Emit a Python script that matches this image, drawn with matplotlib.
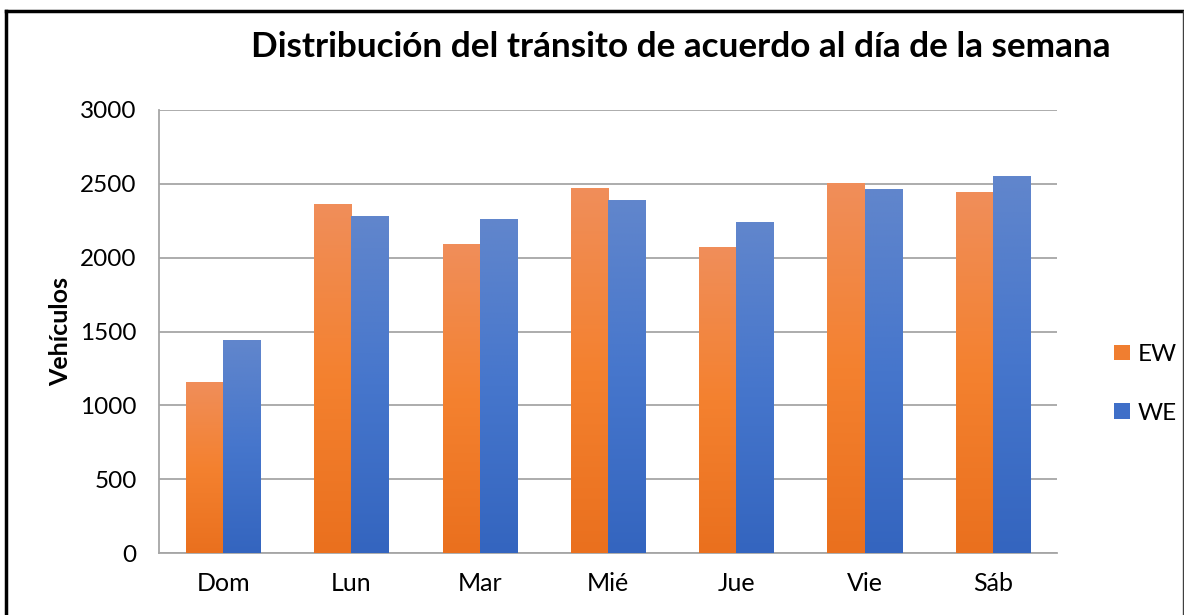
import numpy as np
import matplotlib
matplotlib.use("Agg")
import matplotlib.pyplot as plt
from matplotlib.patches import Patch
from matplotlib.lines import Line2D
from matplotlib.colors import LinearSegmentedColormap

days = ["Dom", "Lun", "Mar", "Mié", "Jue", "Vie", "Sáb"]
ew = [1155, 2360, 2090, 2470, 2070, 2500, 2440]
we = [1440, 2280, 2260, 2390, 2240, 2460, 2550]
series_names = ["EW", "WE"]
yticks = [0, 500, 1000, 1500, 2000, 2500, 3000]

FONT = ["Lato", "DejaVu Sans"]
plt.rcParams["font.family"] = FONT

W, H = 1184, 615
fig = plt.figure(figsize=(W / 100, H / 100), dpi=100)
ax = fig.add_axes([159 / W, 62 / H, 898 / W, 443 / H])

x = np.arange(len(days))
bw = 0.29
orange_cmap = LinearSegmentedColormap.from_list("o", ["#EA701E", "#F4812F", "#F08E5A"])
blue_cmap = LinearSegmentedColormap.from_list("b", ["#3465BF", "#4676CC", "#6186CC"])

bars_ew = ax.bar(x - bw / 2, ew, bw, color="none", edgecolor="none", zorder=3)
bars_we = ax.bar(x + bw / 2, we, bw, color="none", edgecolor="none", zorder=3)

grad = np.linspace(0, 1, 256).reshape(-1, 1)
for bars, cmap in ((bars_ew, orange_cmap), (bars_we, blue_cmap)):
    for r in bars:
        x0, y0 = r.get_x(), r.get_y()
        w, h = r.get_width(), r.get_height()
        ax.imshow(grad, cmap=cmap, origin="lower", aspect="auto",
                  extent=[x0, x0 + w, y0, y0 + h], zorder=3, interpolation="bilinear")

ax.set_xlim(-0.5, len(days) - 0.5)
ax.set_ylim(0, 3000)
ax.set_yticks(yticks)
ax.set_xticks(x)
ax.set_xticklabels(days)
ax.yaxis.grid(True, color="#A6A6A6", linewidth=1.3, zorder=0)
ax.set_axisbelow(True)
for s in ["top", "right"]:
    ax.spines[s].set_visible(False)
for s in ["left", "bottom"]:
    ax.spines[s].set_color("#A6A6A6")
    ax.spines[s].set_linewidth(1.3)
ax.tick_params(axis="both", length=0, labelsize=17.5, colors="#000000")
ax.tick_params(axis="x", labelsize=18)
ax.tick_params(axis="y", pad=16)
ax.tick_params(axis="x", pad=14)

fig.text(61 / W, 1 - 331 / H, "Vehículos", rotation=90, ha="center", va="center",
         fontsize=18, fontweight="bold")
fig.text(681 / W, 1 - 47 / H, "Distribución del tránsito de acuerdo al día de la semana",
         ha="center", va="center", fontsize=25.3, fontweight="bold")

handles = [Patch(facecolor="#F07E30", edgecolor="none"),
           Patch(facecolor="#3F6FC8", edgecolor="none")]
fig.legend(handles, series_names, loc="center left", bbox_to_anchor=(1114 / W, 1 - 384 / H),
           frameon=False, fontsize=17.5, handlelength=0.66, handleheight=0.62,
           handletextpad=0.3, labelspacing=1.55, borderpad=0, borderaxespad=0)

# outer border
fig.add_artist(Line2D([6 / W, 6 / W], [0, 1 - 11 / H], color="black", linewidth=2.5, transform=fig.transFigure))
fig.add_artist(Line2D([6 / W, 1183 / W], [1 - 11 / H, 1 - 11 / H], color="black", linewidth=2.5, transform=fig.transFigure))
fig.add_artist(Line2D([1182.5 / W, 1182.5 / W], [0, 1 - 11 / H], color="#404040", linewidth=1, transform=fig.transFigure))

fig.savefig("out.png", dpi=100)
